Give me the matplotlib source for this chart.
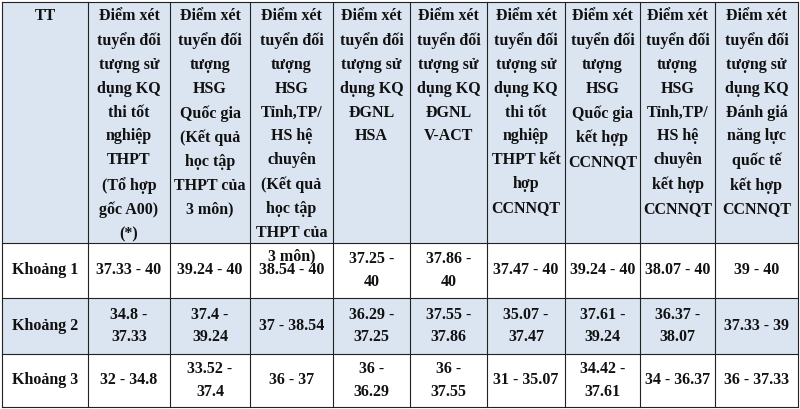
import matplotlib
matplotlib.use("Agg")
import matplotlib.pyplot as plt
from matplotlib.patches import Rectangle

headers = ["TT",
 "Điểm xét\ntuyển đối\ntượng sử\ndụng KQ\nthi tốt\nnghiệp\nTHPT\n(Tổ hợp\ngốc A00)\n(*)",
 "Điểm xét\ntuyển đối\ntượng\nHSG\nQuốc gia\n(Kết quả\nhọc tập\nTHPT của\n3 môn)",
 "Điểm xét\ntuyển đối\ntượng\nHSG\nTỉnh,TP/\nHS hệ\nchuyên\n(Kết quả\nhọc tập\nTHPT của\n3 môn)",
 "Điểm xét\ntuyển đối\ntượng sử\ndụng KQ\nĐGNL\nHSA",
 "Điểm xét\ntuyển đối\ntượng sử\ndụng KQ\nĐGNL\nV-ACT",
 "Điểm xét\ntuyển đối\ntượng sử\ndụng KQ\nthi tốt\nnghiệp\nTHPT kết\nhợp\nCCNNQT",
 "Điểm xét\ntuyển đối\ntượng\nHSG\nQuốc gia\nkết hợp\nCCNNQT",
 "Điểm xét\ntuyển đối\ntượng\nHSG\nTỉnh,TP/\nHS hệ\nchuyên\nkết hợp\nCCNNQT",
 "Điểm xét\ntuyển đối\ntượng sử\ndụng KQ\nĐánh giá\nnăng lực\nquốc tế\nkết hợp\nCCNNQT"]
rows = [
 ["Khoảng 1", "37.33 - 40", "39.24 - 40", "38.54 - 40", "37.25 -\n40", "37.86 -\n40", "37.47 - 40", "39.24 - 40", "38.07 - 40", "39 - 40"],
 ["Khoảng 2", "34.8 -\n37.33", "37.4 -\n39.24", "37 - 38.54", "36.29 -\n37.25", "37.55 -\n37.86", "35.07 -\n37.47", "37.61 -\n39.24", "36.37 -\n38.07", "37.33 - 39"],
 ["Khoảng 3", "32 - 34.8", "33.52 -\n37.4", "36 - 37", "36 -\n36.29", "36 -\n37.55", "31 - 35.07", "34.42 -\n37.61", "34 - 36.37", "36 - 37.33"],
]
xs = [2, 88, 170, 250, 333, 410, 487, 565, 640, 715, 798]
ys = [2, 243, 298, 354, 407]
fills = ["#dbe5f1", "#ffffff", "#dbe5f1", "#ffffff"]

fig = plt.figure(figsize=(8, 4.09), dpi=100)
ax = fig.add_axes([0, 0, 1, 1])
ax.set_xlim(0, 800); ax.set_ylim(409, 0); ax.axis("off")
fnt = dict(family="Liberation Serif", fontweight="bold", fontsize=11.5, color="#111111")
allrows = [headers] + rows
for r in range(4):
    ax.add_patch(Rectangle((xs[0], ys[r]), xs[-1]-xs[0], ys[r+1]-ys[r], facecolor=fills[r], edgecolor="none"))
    for c in range(10):
        cx = (xs[c]+xs[c+1])/2
        if r == 0:
            ax.text(cx, 8, allrows[r][c], ha="center", va="top", linespacing=1.65, **fnt)
        else:
            ax.text(cx, (ys[r]+ys[r+1])/2, allrows[r][c], ha="center", va="center", linespacing=1.55, **fnt)
for x in xs:
    ax.plot([x, x], [ys[0], ys[-1]], color="#222222", lw=0.8)
for y in ys:
    ax.plot([xs[0], xs[-1]], [y, y], color="#222222", lw=0.8)
fig.savefig("out.png", dpi=100)
